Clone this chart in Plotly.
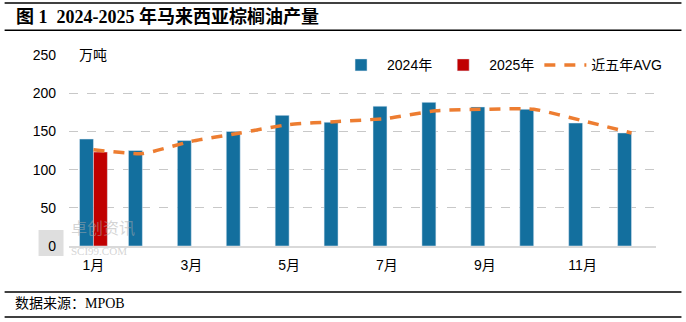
import plotly.graph_objects as go

months = list(range(1, 13))
tick_labels = ["1月", "", "3月", "", "5月", "", "7月", "", "9月", "", "11月", ""]
prod_2024 = [140, 125, 138, 150, 171, 162, 183, 188, 182, 179, 161, 148]
prod_2025 = [123]
avg_5y = [126, 121, 137, 148, 159, 163, 167, 177, 179, 179, 164, 148]

W, H = 686, 322
L, R, T, B = 68.5, 29.5, 54.7, 76

CJK = "Liberation Sans, Noto Sans CJK SC, sans-serif"
SERIF = "Liberation Serif, Noto Sans CJK SC, serif"

def px(x):
    return (x - L) / (W - L - R)

def py(y):
    return (H - B - y) / (H - T - B)

fig = go.Figure()
fig.add_trace(go.Bar(x=months, y=prod_2024, name="2024年", marker_color="#136F9E"))
fig.add_trace(go.Bar(x=months[:len(prod_2025)], y=prod_2025, name="2025年", marker_color="#C00000"))
fig.add_trace(go.Scatter(x=months, y=avg_5y, name="近五年AVG", mode="lines",
                         line=dict(color="#ED7D31", width=3.5, dash="11px,9px", shape="spline", smoothing=0.5)))

fig.update_layout(
    width=W, height=H,
    margin=dict(l=L, r=R, t=T, b=B),
    paper_bgcolor="white", plot_bgcolor="white",
    barmode="group", bargap=0.43, bargroupgap=0,
    font=dict(family=CJK, size=14, color="#000000"),
    showlegend=True,
    legend=dict(orientation="h", x=px(335), y=py(65), xanchor="left", yanchor="middle",
                font=dict(size=14, family=CJK), bgcolor="rgba(0,0,0,0)",
                itemwidth=42, traceorder="normal"),
    xaxis=dict(range=[0.5, 12.5], tickvals=months, ticktext=tick_labels,
               showgrid=False, showline=True, linecolor="#D9D9D9", linewidth=1.5,
               ticks="", ticklabelstandoff=5, tickfont=dict(size=14, family=CJK), zeroline=False),
    yaxis=dict(range=[0, 250], tickvals=[0, 50, 100, 150, 200, 250],
               showgrid=True, gridcolor="#C8C8C8", griddash="dash", gridwidth=1,
               zeroline=False, showline=False, ticks="", ticklabelstandoff=12,
               tickfont=dict(size=14, family=CJK)),
)

# unit label
fig.add_annotation(text="万吨", xref="paper", yref="paper", x=px(77), y=py(54.7),
                   xanchor="left", yanchor="middle", showarrow=False, font=dict(size=14, family=CJK))

# watermark
fig.add_shape(type="rect", xref="paper", yref="paper",
              x0=px(38), x1=px(63), y0=py(256), y1=py(230),
              fillcolor="rgba(190,190,190,0.5)", line_width=0, layer="below")
fig.add_annotation(text="卓创资讯<br><span style='font-size:11px;font-family:Liberation Serif'>SCI99.COM</span>",
                   xref="paper", yref="paper", x=px(68), y=py(236),
                   xanchor="left", yanchor="middle", showarrow=False, align="left",
                   font=dict(size=16, family="Noto Sans CJK SC", color="rgba(170,170,170,0.5)"))

# title & footer
fig.add_annotation(text="<b>图 1  2024-2025 年马来西亚棕榈油产量</b>", xref="paper", yref="paper",
                   x=px(13), y=py(16), xanchor="left", yanchor="middle", showarrow=False,
                   font=dict(size=18, family=SERIF, color="#000000"))
fig.add_annotation(text="数据来源：MPOB", xref="paper", yref="paper",
                   x=px(12), y=py(304), xanchor="left", yanchor="middle", showarrow=False,
                   font=dict(size=14, family=SERIF, color="#000000"))
for yy in [2.5, 30, 292, 317]:
    fig.add_shape(type="line", xref="paper", yref="paper",
                  x0=px(4), x1=px(682), y0=py(yy), y1=py(yy),
                  line=dict(color="#000000", width=1.5))

fig.write_html("out.html")
